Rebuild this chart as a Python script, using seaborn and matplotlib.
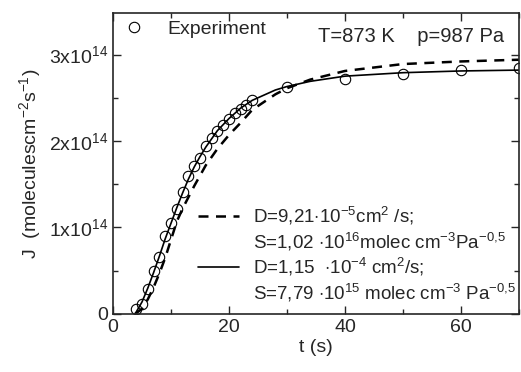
import matplotlib
matplotlib.use("Agg")
import matplotlib.pyplot as plt
from matplotlib.lines import Line2D
from matplotlib.ticker import MultipleLocator
import seaborn as sns
import pandas as pd

# experiment points
t_exp = [4, 5, 6, 7, 8, 9, 10, 11, 12, 13, 14, 15, 16, 17, 18, 19, 20, 21, 22, 23, 24,
         30, 40, 50, 60, 70]
J_exp = [0.055, 0.12, 0.29, 0.50, 0.66, 0.90, 1.05, 1.21, 1.41, 1.59, 1.71, 1.80, 1.94,
         2.04, 2.12, 2.19, 2.26, 2.32, 2.37, 2.42, 2.47, 2.63, 2.72, 2.77, 2.82, 2.84]

# model curves
t_fit = [3.8, 5, 6, 7, 8, 9, 10, 11, 12, 13, 14, 15, 16, 18, 20, 22, 24, 26, 28, 30, 34,
         40, 50, 60, 70]
J_solid = [0.0, 0.14, 0.30, 0.48, 0.67, 0.87, 1.05, 1.23, 1.40, 1.56, 1.70, 1.82, 1.93,
           2.12, 2.26, 2.38, 2.47, 2.53, 2.59, 2.63, 2.69, 2.75, 2.79, 2.81, 2.82]
J_dash = [0.0, 0.06, 0.17, 0.31, 0.47, 0.65, 0.86, 1.07, 1.22, 1.35, 1.48, 1.60, 1.72,
          1.91, 2.07, 2.21, 2.36, 2.45, 2.54, 2.61, 2.71, 2.81, 2.89, 2.92, 2.94]

yticks = [0, 1e14, 2e14, 3e14]
ytick_labels = ["0", "1x10$^{14}$", "2x10$^{14}$", "3x10$^{14}$"]
xticks = [0, 20, 40, 60]

sns.set_style("ticks")
plt.rcParams["font.family"] = ["Liberation Sans", "DejaVu Sans"]
plt.rcParams["mathtext.fontset"] = "custom"
plt.rcParams["mathtext.rm"] = "Liberation Sans"
plt.rcParams["mathtext.it"] = "Liberation Sans:italic"
plt.rcParams["mathtext.bf"] = "Liberation Sans:bold"

df_exp = pd.DataFrame({"t": t_exp, "J": [v * 1e14 for v in J_exp]})
df_fit = pd.DataFrame({"t": t_fit,
                       "solid": [v * 1e14 for v in J_solid],
                       "dash": [v * 1e14 for v in J_dash]})

fig = plt.figure(figsize=(5.21, 3.72), dpi=100)
ax = fig.add_axes([0.217, 0.156, 0.779, 0.809])

dash_style = (0, (4, 3))
sns.lineplot(data=df_fit, x="t", y="dash", ax=ax, color="black", lw=1.8,
             linestyle=dash_style)
sns.lineplot(data=df_fit, x="t", y="solid", ax=ax, color="black", lw=1.2)
ax.plot(df_exp["t"], df_exp["J"], "o", mfc="none", mec="black", ms=7.5, mew=0.8)

ax.set_xlim(0, 70)
ax.set_ylim(0, 3.48e14)
ax.set_xticks(xticks)
ax.set_yticks(yticks)
ax.set_yticklabels(ytick_labels)
ax.xaxis.set_minor_locator(MultipleLocator(10))
ax.yaxis.set_minor_locator(MultipleLocator(0.5e14))
ax.tick_params(which="both", direction="in", top=True, right=True, labelsize=14,
               width=1)
ax.tick_params(which="major", length=6)
ax.tick_params(which="minor", length=3.5)
for s in ax.spines.values():
    s.set_linewidth(1.2)

ax.set_xlabel("t (s)", fontsize=14, labelpad=2)
ax.set_ylabel("J  (moleculescm$^{-2}$s$^{-1}$)", fontsize=14, labelpad=4)

# legends
h_exp = Line2D([], [], marker="o", ls="none", mfc="none", mec="black", ms=7.5, mew=0.8)
leg1 = ax.legend([h_exp], ["Experiment"], loc="upper left", frameon=False,
                 fontsize=14, handlelength=1.0, bbox_to_anchor=(-0.005, 1.02),
                 borderaxespad=0.3, handletextpad=1.2)
ax.add_artist(leg1)
ax.text(0.505, 0.955, "T=873 K    p=987 Pa", transform=ax.transAxes, fontsize=14.5,
        va="top", ha="left")

blank = Line2D([], [], ls="none")
h_dash = Line2D([], [], color="black", lw=1.8, linestyle=dash_style)
h_solid = Line2D([], [], color="black", lw=1.2)
labels = ["D=9,21$\\cdot$10$^{-5}$cm$^{2}$ /s;",
          "S=1,02 $\\cdot$10$^{16}$molec cm$^{-3}$Pa$^{-0{,}5}$",
          "D=1,15  $\\cdot$10$^{-4}$ cm$^{2}$/s;",
          "S=7,79 $\\cdot$10$^{15}$ molec cm$^{-3}$ Pa$^{-0{,}5}$"]
ax.legend([h_dash, blank, h_solid, blank], labels, loc="lower right", frameon=False,
          fontsize=13.5, handlelength=2.2, labelspacing=0.2, handletextpad=0.7,
          bbox_to_anchor=(1.02, -0.005), borderaxespad=0.2)

fig.savefig("out.png", dpi=100)
